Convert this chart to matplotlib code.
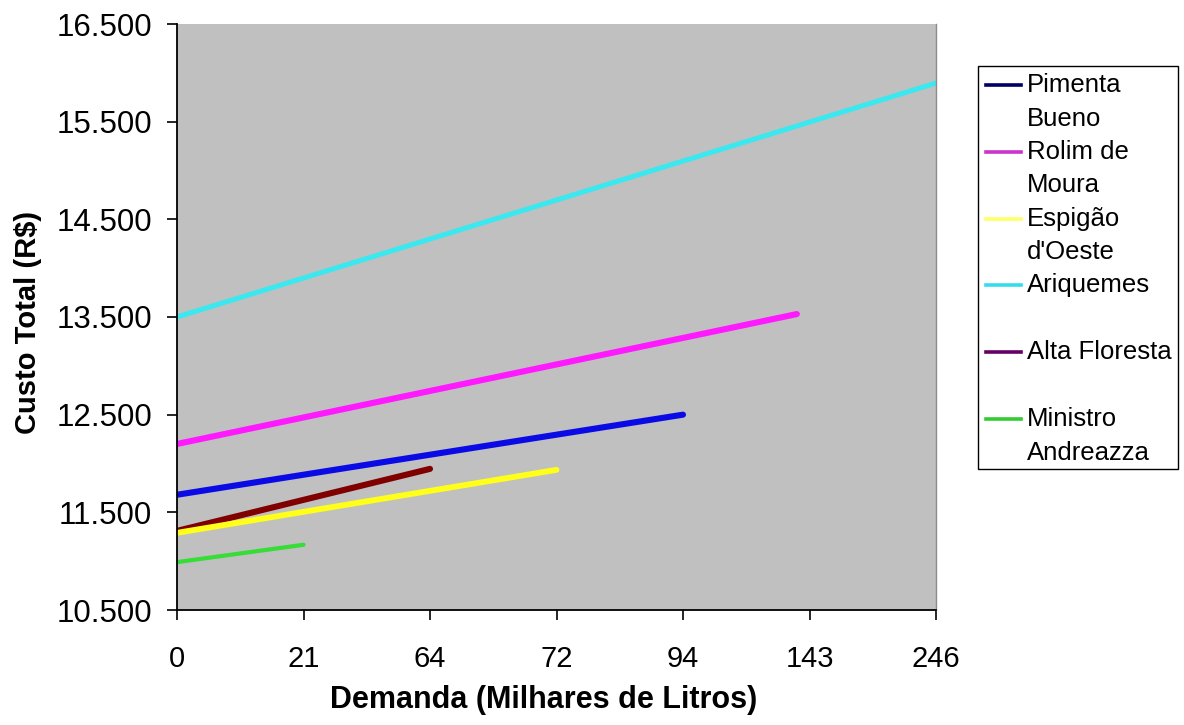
import matplotlib.pyplot as plt
from matplotlib.patches import Rectangle
from matplotlib.ticker import FuncFormatter

plt.rcParams['font.family'] = ['Liberation Sans', 'DejaVu Sans']

# categorias do eixo x (demanda, milhares de litros)
demanda = ['0', '21', '64', '72', '94', '143', '246']

# cada municipio: posicao final no eixo de categorias e custo inicial/final (R$)
municipios = ['Pimenta\nBueno', 'Rolim de\nMoura', 'Espigão\nd\'Oeste',
              'Ariquemes', 'Alta Floresta', 'Ministro\nAndreazza']
pos_final = [4, 4.9, 3, 6, 2, 1]
custo_ini = [11680, 12200, 11290, 13500, 11310, 10990]
custo_fim = [12500, 13530, 11935, 15895, 11945, 11168]

cores_linha = ['#0a0ae6', '#ff19ff', '#ffff19', '#3ae8f0', '#800000', '#36dd36']
cores_legenda = ['#000066', '#cc33cc', '#ffff66', '#33ddee', '#660066', '#33cc33']
larguras = [4.4, 4.4, 4.2, 3.6, 4.4, 3.0]
ordem = [3, 1, 0, 4, 2, 5]   # marrom fica por baixo do amarelo

fig = plt.figure(figsize=(11.84, 7.25), dpi=100)
ax = fig.add_axes([177 / 1184, 1 - 610 / 725, (936 - 177) / 1184, (610 - 24) / 725])
ax.set_facecolor('#c0c0c0')

for i in ordem:
    ax.plot([0, pos_final[i]], [custo_ini[i], custo_fim[i]],
            color=cores_linha[i], lw=larguras[i], solid_capstyle='round')

ax.set_xlim(0, len(demanda) - 1)
ax.set_ylim(10500, 16500)
ax.set_xticks(range(len(demanda)))
ax.set_xticklabels(demanda)
ax.set_yticks(range(10500, 16501, 1000))
ax.yaxis.set_major_formatter(FuncFormatter(lambda v, p: f"{v:,.0f}".replace(',', '.')))

ax.tick_params(axis='both', width=1.2, length=7, direction='out')
ax.tick_params(axis='y', pad=11, labelsize=22.5)
ax.tick_params(axis='x', pad=18, labelsize=21)

ax.spines['top'].set_visible(False)
ax.spines['right'].set_color('#8c8c8c')
ax.spines['right'].set_linewidth(1.0)
for s in ['left', 'bottom']:
    ax.spines[s].set_linewidth(1.3)

fig.text(28 / 1184, 1 - 322 / 725, 'Custo Total (R$)', rotation=90,
         ha='center', va='center', fontsize=21, fontweight='bold')
fig.text(544 / 1184, 1 - 700 / 725, 'Demanda (Milhares de Litros)',
         ha='center', va='center', fontsize=22, fontweight='bold')

# legenda desenhada a mao (itens com altura fixa, como no original)
W, H = 1184, 725
fig.patches.append(Rectangle((978 / W, 1 - 469 / H), 200 / W, 403 / H,
                             transform=fig.transFigure, fill=False,
                             edgecolor='black', lw=1.0))
for i, nome in enumerate(municipios):
    y = 85 + 66.8 * i
    fig.add_artist(plt.Line2D([986 / W, 1021 / W], [1 - y / H, 1 - y / H],
                              transform=fig.transFigure,
                              color=cores_legenda[i], lw=2.6))
    for k, linha in enumerate(nome.split('\n')):
        fig.text(1027 / W, 1 - (y + 33.5 * k) / H, linha,
                 ha='left', va='center', fontsize=18.5)

plt.savefig('out.png', dpi=100)
plt.close()
